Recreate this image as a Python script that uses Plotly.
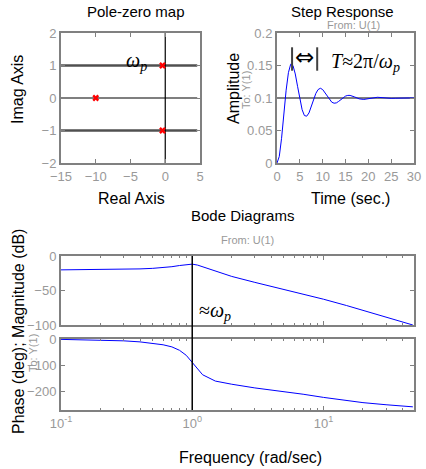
import plotly.graph_objects as go

W, H = 426, 469

# pole-zero map
pole_re = [-0.4, -10, -0.4]
pole_im = [1, 0, -1]

# step response
step_t = [0, 0.5, 1, 1.5, 2, 2.5, 3, 3.5, 4, 4.5, 5, 5.5, 6, 6.5, 7, 7.5, 8, 8.5, 9,
          9.5, 10, 10.5, 11, 11.5, 12, 12.5, 13, 13.5, 14, 14.5, 15, 15.5, 16, 17,
          18, 19, 20, 21, 22, 23, 24, 25, 26, 27, 28, 29, 30]
step_y = [0, 0.010, 0.038, 0.076, 0.112, 0.139, 0.152, 0.150, 0.137, 0.118, 0.098,
          0.082, 0.073, 0.072, 0.077, 0.087, 0.098, 0.107, 0.113, 0.115, 0.113, 0.108,
          0.102, 0.097, 0.0935, 0.092, 0.0925, 0.0948, 0.0978, 0.1006, 0.1029, 0.104,
          0.104, 0.1016, 0.0987, 0.0978, 0.0989, 0.1005, 0.1011, 0.1006, 0.0998,
          0.0995, 0.0997, 0.1002, 0.1003, 0.1001, 0.0999]

# bode
freq = [0.1, 0.2, 0.3, 0.4, 0.5, 0.6, 0.7, 0.8, 0.9, 1.0, 1.1, 1.2, 1.5, 2, 3, 5,
        7, 10, 15, 20, 30, 48]
mag_db = [-20.1, -19.7, -19.3, -18.7, -17.9, -16.8, -15.5, -13.8, -12.3, -11.8,
          -13.2, -15.6, -22.4, -29.6, -38.2, -48.3, -55.0, -62.6, -71.8, -78.7,
          -88.8, -100.0]
phase_deg = [-1.5, -3.5, -7.0, -11.0, -16.0, -22.0, -30.0, -43.0, -62.0, -90.0,
             -117.0, -136.0, -160.0, -172.0, -186.0, -200.0, -210.0, -222.0,
             -234.0, -242.0, -250.0, -258.0]

GRAY = "#808080"
TICK = "#999999"
FONT = "Liberation Sans, Arial, sans-serif"
SERIF = "Liberation Serif, Times New Roman, serif"


def px(x):
    return x / W


def py(y):
    return 1 - y / H


def box_axis(**kw):
    d = dict(showline=True, linecolor=GRAY, linewidth=2, mirror="ticks",
             ticks="inside", ticklen=4, tickcolor=GRAY, showgrid=False,
             zeroline=False, tickfont=dict(color=TICK, size=13, family=FONT))
    d.update(kw)
    return d


fig = go.Figure()

# pole-zero
for yv, c, w in [(1, "#505050", 2.5), (0, "black", 1.2), (-1, "#505050", 2.5)]:
    fig.add_trace(go.Scatter(x=[-15, 4.6], y=[yv, yv], mode="lines",
                             line=dict(color=c, width=w), xaxis="x", yaxis="y"))
fig.add_trace(go.Scatter(x=[0, 0], y=[-2, 2], mode="lines",
                         line=dict(color="black", width=1.2), xaxis="x", yaxis="y"))
fig.add_trace(go.Scatter(x=pole_re, y=pole_im, mode="markers",
                         marker=dict(symbol="x", size=6, color="red"),
                         xaxis="x", yaxis="y"))

# step
fig.add_trace(go.Scatter(x=[0, 30], y=[0.1, 0.1], mode="lines",
                         line=dict(color=GRAY, width=2), xaxis="x2", yaxis="y2"))
fig.add_trace(go.Scatter(x=step_t, y=step_y, mode="lines",
                         line=dict(color="blue", width=1), xaxis="x2", yaxis="y2"))
for tv in [3.3, 8.8]:
    fig.add_trace(go.Scatter(x=[tv, tv], y=[0.142, 0.178], mode="lines",
                             line=dict(color="#404040", width=2),
                             xaxis="x2", yaxis="y2"))

# bode
fig.add_trace(go.Scatter(x=freq, y=mag_db, mode="lines",
                         line=dict(color="blue", width=1), xaxis="x3", yaxis="y3"))
fig.add_trace(go.Scatter(x=freq, y=phase_deg, mode="lines",
                         line=dict(color="blue", width=1), xaxis="x4", yaxis="y4"))

minor_vals = [0.2, 0.3, 0.4, 0.5, 0.6, 0.7, 0.8, 0.9, 2, 3, 4, 5, 6, 7, 8, 9,
              20, 30, 40]
log_range = [-1, 1.69]

fig.update_layout(
    width=W, height=H, showlegend=False,
    margin=dict(l=0, r=0, t=0, b=0, autoexpand=False),
    paper_bgcolor="white", plot_bgcolor="white",
    font=dict(family=FONT),
    xaxis=box_axis(domain=[px(61), px(200)], range=[-15, 5], tickvals=[-15, -10, -5, 0, 5],
                   anchor="y"),
    yaxis=box_axis(domain=[py(163), py(33)], range=[-2, 2], tickvals=[-2, -1, 0, 1, 2],
                   anchor="x"),
    xaxis2=box_axis(domain=[px(277), px(414)], range=[0, 30],
                    tickvals=[0, 5, 10, 15, 20, 25, 30], anchor="y2"),
    yaxis2=box_axis(domain=[py(163), py(33)], range=[0, 0.2],
                    tickvals=[0, 0.05, 0.1, 0.15, 0.2],
                    ticktext=["0", "0.05", "0.1", "0.15", "0.2"], anchor="x2"),
    xaxis3=box_axis(domain=[px(61), px(414)], type="log", range=log_range,
                    tickvals=[0.1, 1, 10], showticklabels=False, anchor="y3",
                    minor=dict(ticks="inside", ticklen=2, tickcolor=GRAY,
                               tickvals=minor_vals)),
    yaxis3=box_axis(domain=[py(325), py(256)], range=[-100, 0],
                    tickvals=[-100, -50, 0], anchor="x3"),
    xaxis4=box_axis(domain=[px(61), px(414)], type="log", range=log_range,
                    tickvals=[0.1, 1, 10],
                    ticktext=["10<sup>-1</sup>", "10<sup>0</sup>", "10<sup>1</sup>"],
                    anchor="y4",
                    minor=dict(ticks="inside", ticklen=2, tickcolor=GRAY,
                               tickvals=minor_vals)),
    yaxis4=box_axis(domain=[py(410), py(339)], range=[-270, 0],
                    tickvals=[-200, -100, 0], anchor="x4"),
)

# vertical line at omega_p across both bode panels
fig.add_shape(type="line", xref="x3", yref="paper", x0=1, x1=1,
              y0=py(410), y1=py(256), line=dict(color="black", width=1.5))


def label(x, y, text, size=14, color="black", angle=0, family=FONT):
    fig.add_annotation(x=px(x), y=py(y), xref="paper", yref="paper", text=text,
                       showarrow=False, textangle=angle,
                       font=dict(size=size, color=color, family=family),
                       xanchor="center", yanchor="middle")


label(136, 12, "Pole-zero map", 15)
label(18, 90, "Imag Axis", 16, angle=-90)
label(131, 199, "Real Axis", 16)
label(136, 61, "<i>ω<sub>p</sub></i>", 20, family=SERIF)

label(342, 11, "Step Response", 15)
label(353, 25, "From: U(1)", 11, TICK)
label(233, 89, "Amplitude", 16, angle=-90)
label(246, 90, "To: Y(1)", 11, TICK, angle=-90)
label(350, 198, "Time (sec.)", 16)
label(304, 57, "⇔", 23, family="DejaVu Sans")
label(365, 62, "<i>T</i>≈2π/<i>ω<sub>p</sub></i>", 20, family=SERIF)

label(242, 215, "Bode Diagrams", 15)
label(247, 240, "From: U(1)", 11, TICK)
label(18, 332, "Phase (deg); Magnitude (dB)", 16, angle=-90)
label(33, 353, "To: Y(1)", 11, TICK, angle=-90)
label(250, 457, "Frequency (rad/sec)", 16)
label(215, 311, "≈<i>ω<sub>p</sub></i>", 20, family=SERIF)

# the page's default body margin would push the figure 8px in
fig.write_html("out.html", config={"displayModeBar": False},
               post_script="document.body.style.margin='0px';")
